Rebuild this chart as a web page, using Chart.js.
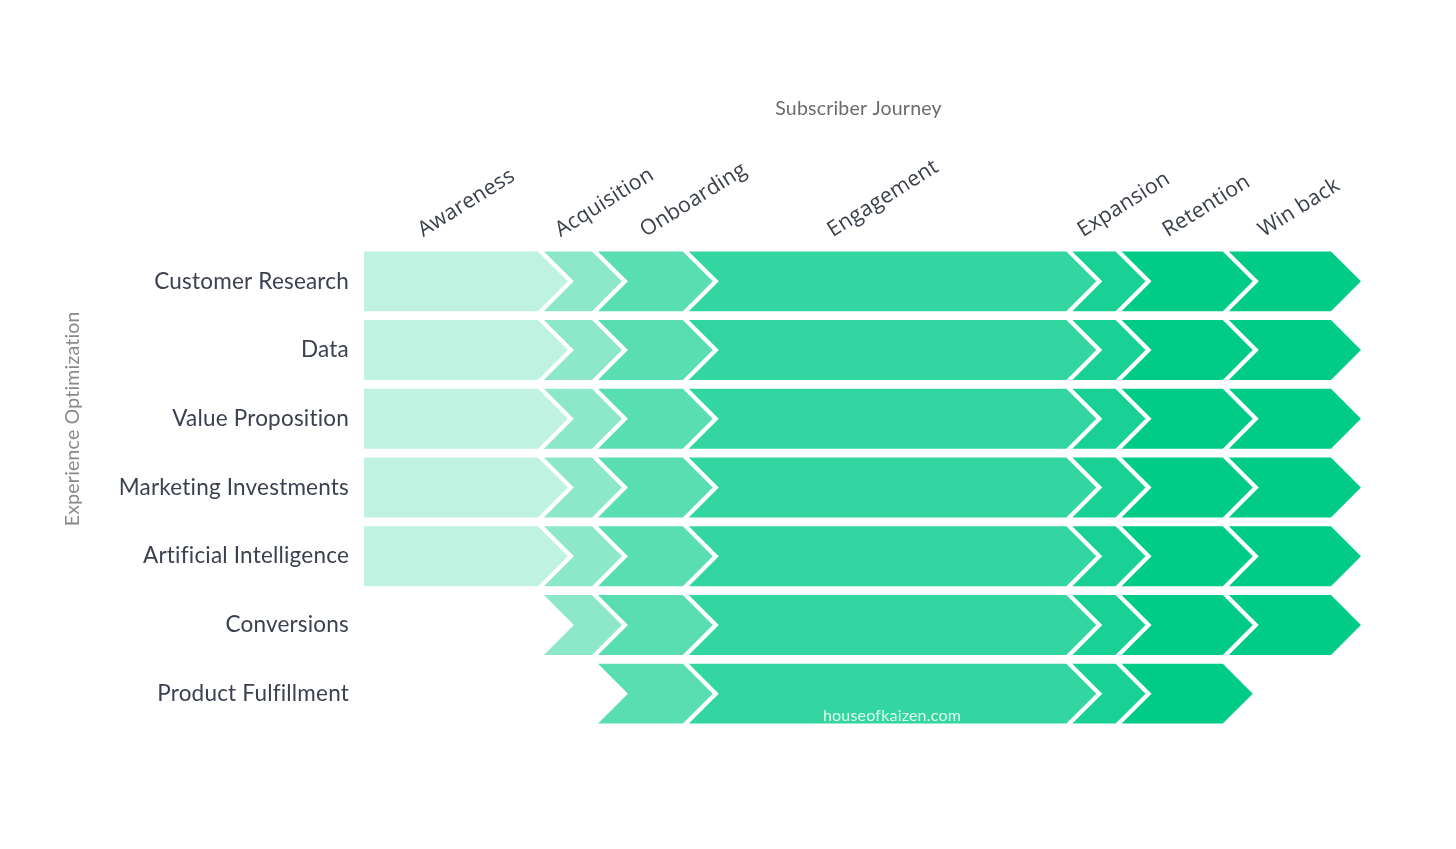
<!DOCTYPE html>
<html>
<head>
<meta charset="utf-8">
<title>Subscriber Journey</title>
<script src="https://cdn.jsdelivr.net/npm/chart.js@4.4.1/dist/chart.umd.min.js"></script>
<style>
  html, body { margin: 0; padding: 0; background: #fff; }
</style>
</head>
<body>
<canvas id="journey" width="1456" height="849"></canvas>
<script>
// stages of the subscriber journey and how long each one runs (share of the journey, %)
const stages = ['Awareness', 'Acquisition', 'Onboarding', 'Engagement', 'Expansion', 'Retention', 'Win back'];
const stageLengths = [18.0, 5.6, 9.4, 39.7, 5.1, 11.1, 11.2];
const stageColors = ['#bff2e1', '#8ce8c9', '#59deb2', '#33d6a0', '#19d194', '#00cc88', '#00cc88'];
// where each rotated stage label sits on the top axis
const stageTicks = [7.2, 21.4, 30.2, 49.6, 75.5, 84.3, 94.2];

// optimization areas and the range of stages they cover
const areas = ['Customer Research', 'Data', 'Value Proposition', 'Marketing Investments', 'Artificial Intelligence', 'Conversions', 'Product Fulfillment'];
const firstStage = [0, 0, 0, 0, 0, 1, 2];
const lastStage = [6, 6, 6, 6, 6, 6, 5];

const total = stageLengths.reduce((a, b) => a + b, 0);

let start = 0;
const datasets = stages.map((name, s) => {
    const from = start;
    const to = start + stageLengths[s];
    start = to;
    return {
        label: name,
        data: areas.map((a, r) => (s >= firstStage[r] && s <= lastStage[r]) ? [from, to] : null),
        backgroundColor: stageColors[s]
    };
});

// draw every bar as a chevron instead of a rectangle
const chevrons = {
    id: 'chevrons',
    beforeDraw(chart) {
        // a hair of letter spacing keeps Lato from joining "ti" into a ligature
        chart.ctx.letterSpacing = '0.2px';
    },
    beforeDatasetDraw(chart, args) {
        const ctx = chart.ctx;
        const area = chart.chartArea;
        const ds = chart.data.datasets[args.index];
        const gap = 6;
        ctx.save();
        ctx.fillStyle = ds.backgroundColor;
        args.meta.data.forEach((el, r) => {
            if (ds.data[r] == null) return;
            const top = el.y - el.height / 2;
            const bottom = el.y + el.height / 2;
            const d = el.height / 2;
            const notch = el.base > area.left + 1;
            const x0 = notch ? el.base + gap : el.base;
            ctx.beginPath();
            ctx.moveTo(x0, top);
            ctx.lineTo(el.x, top);
            ctx.lineTo(el.x + d, el.y);
            ctx.lineTo(el.x, bottom);
            ctx.lineTo(x0, bottom);
            if (notch) ctx.lineTo(x0 + d, el.y);
            ctx.closePath();
            ctx.fill();
        });
        ctx.restore();
        return false;
    },
    afterDraw(chart) {
        const ctx = chart.ctx;
        const area = chart.chartArea;
        const y = chart.scales.y;
        const tip = y.getPixelForValue(0.436) - y.getPixelForValue(0); // half a bar

        // top title, centred over the bars including their arrow tips
        ctx.save();
        ctx.font = '19.5px Lato';
        ctx.fillStyle = '#6b6b6b';
        ctx.textAlign = 'center';
        ctx.textBaseline = 'middle';
        ctx.fillText('Subscriber Journey', (area.left + area.right + tip) / 2 - 4, 109);
        ctx.restore();

        // side title, centred on the first five areas like the original
        const midY = (y.getPixelForValue(0) + y.getPixelForValue(4)) / 2;
        ctx.save();
        ctx.translate(73, midY);
        ctx.rotate(-Math.PI / 2);
        ctx.font = '19.5px Lato';
        ctx.fillStyle = '#8a8a8a';
        ctx.textAlign = 'center';
        ctx.textBaseline = 'middle';
        ctx.fillText('Experience Optimization', 0, 0);
        ctx.restore();

        ctx.save();
        ctx.font = '16px Lato';
        ctx.fillStyle = 'rgba(255,255,255,0.85)';
        ctx.textAlign = 'center';
        ctx.textBaseline = 'alphabetic';
        ctx.fillText('houseofkaizen.com', 892, 721);
        ctx.restore();
    }
};

new Chart(document.getElementById('journey'), {
    type: 'bar',
    data: { labels: areas, datasets: datasets },
    options: {
        indexAxis: 'y',
        responsive: false,
        animation: false,
        layout: { padding: { top: 0, right: 125, bottom: 121, left: 0 } },
        datasets: { bar: { grouped: false, barPercentage: 0.872, categoryPercentage: 1 } },
        plugins: {
            legend: { display: false },
            tooltip: { enabled: false }
        },
        scales: {
            x: {
                type: 'linear',
                position: 'top',
                min: 0,
                max: total,
                grid: { display: false, drawTicks: false },
                border: { display: false },
                afterBuildTicks: scale => { scale.ticks = stageTicks.map(v => ({ value: v })); },
                afterFit: scale => { scale.height = 247; },
                ticks: {
                    autoSkip: false,
                    minRotation: 32,
                    maxRotation: 32,
                    padding: 4,
                    color: '#3a3f4b',
                    font: { family: 'Open Sans', size: 21.3 },
                    callback: (v, i) => stages[i]
                }
            },
            y: {
                grid: { display: false, drawTicks: false },
                border: { display: false },
                afterFit: scale => { scale.width = 364; },
                ticks: {
                    padding: 15,
                    color: '#3c4150',
                    font: { family: 'Lato', size: 22.5 }
                }
            }
        }
    },
    plugins: [chevrons]
});
</script>
</body>
</html>
